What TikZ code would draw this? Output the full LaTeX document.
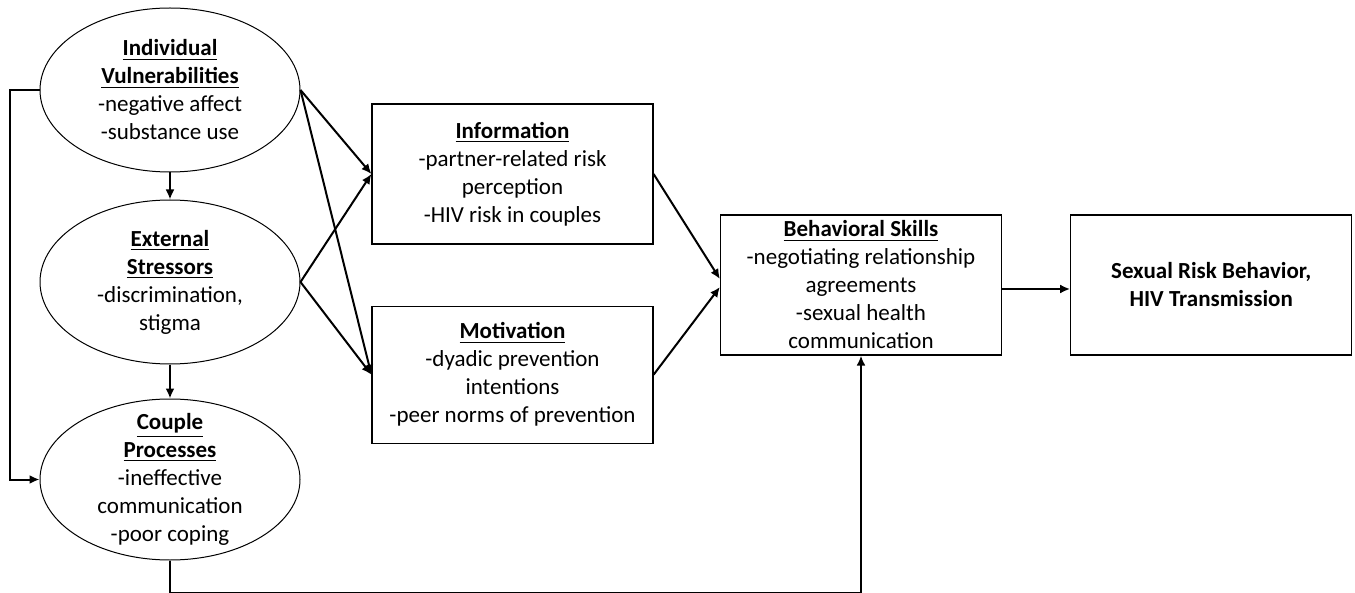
\documentclass[tikz,border=0pt]{standalone}
\usepackage{fontspec}
\setmainfont{Carlito}
\usetikzlibrary{arrows.meta,positioning,shapes.geometric}
\tikzset{
  txt/.style={align=center, font=\fontsize{11.5}{14}\selectfont, inner sep=0pt},
  oval/.style={txt, draw, ellipse, line width=0.5pt, minimum width=130pt, minimum height=82pt},
  box/.style={txt, draw, line width=0.6pt, minimum width=140.5pt, minimum height=70pt},
  flow/.style={-{Latex[length=5pt,width=4.5pt]}, line width=1pt},
}
\newcommand{\hd}[1]{\underline{\textbf{#1}}}

\begin{document}
\begin{tikzpicture}[node distance=13.5pt and 17pt]
  \useasboundingbox (0,0) rectangle (677.5pt,-296.5pt);
  % left column: ovals
  \node[oval] (iv) at (85pt,-45pt) {\hd{Individual}\\\hd{Vulnerabilities}\\-negative affect\\-substance use};
  \node[oval, below=of iv] (es) {\hd{External}\\\hd{Stressors}\\-discrimination,\\stigma};
  \node[oval, below=17pt of es, minimum height=80.5pt, inner ysep=-7pt] (cp) {\hd{Couple}\\\hd{Processes}\\-ineffective\\communication\\-poor coping};
  % middle and right boxes
  \node[box] (info) at (256.25pt,-87pt) {\hd{Information}\\-partner-related risk\\perception\\-HIV risk in couples};
  \node[box, below=30.5pt of info, minimum height=68.5pt] (mot) {\hd{Motivation}\\-dyadic prevention\\intentions\\-peer norms of prevention};
  \node[box] (bs) at (430.5pt,-142.5pt) {\hd{Behavioral Skills}\\-negotiating relationship\\agreements\\-sexual health\\communication};
  \node[box, right=34pt of bs] (out) {\textbf{Sexual Risk Behavior,}\\\textbf{HIV Transmission}};
  % connectors
  \draw[flow] (iv) -- (es);
  \draw[flow] (es) -- (cp);
  \foreach \x in {iv,es} \foreach \y in {info,mot} \draw[flow] (\x.east) -- (\y.west);
  \draw[flow] (info.east) -- ([yshift=3pt]bs.west);
  \draw[flow] (mot.east) -- ([yshift=-1pt]bs.west);
  \draw[flow] ([yshift=-2pt]bs.east) -- ([yshift=-2pt]out.west);
  \draw[flow] (iv.west) -- ++(-15pt,0) |- (cp.west);
  \draw[flow] (cp.south) -- ++(0,-16pt) -| (bs.south);
\end{tikzpicture}
\end{document}
